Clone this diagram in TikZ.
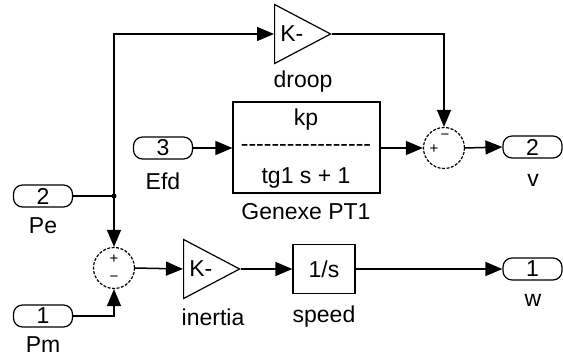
\documentclass[tikz,border=0pt]{standalone}
\usepackage{fontspec}
\setmainfont{Liberation Sans}
\usetikzlibrary{arrows.meta,shapes.geometric,positioning}

\begin{document}
\begin{tikzpicture}[
  x=1pt, y=-1pt,
  line width=1.5pt,
  every node/.style={font=\fontsize{23}{26}\selectfont},
  sig/.style={-{Triangle[length=17pt,width=14pt]}},
  port/.style={draw, line width=1.2pt, rounded corners=9pt, minimum width=59pt, minimum height=22pt, inner sep=0pt},
  gain/.style={draw, line width=1.2pt, isosceles triangle, isosceles triangle stretches, minimum width=59pt, minimum height=56pt, inner sep=0pt},
  sum/.style={draw, circle, line width=1.2pt, dash pattern=on 3pt off 1.5pt, minimum size=41pt, inner sep=0pt},
  blk/.style={draw, line width=1.2pt, inner sep=0pt},
  sign/.style={font=\fontsize{15}{15}\selectfont, inner sep=0pt},
  lbl/.style={inner sep=0pt}]
\useasboundingbox (0,0) rectangle (563,358);

% blocks
\node[gain, anchor=lower side] (droop) at (274,34) {K-};
\node[lbl] (droopL) at (303,82) {droop};
\node[blk, minimum width=147pt, minimum height=91pt] (pt1) at (306.5,147.5) {};
\node[lbl] (pt1Num) at (306,120) {kp};
\node[lbl] (pt1Bar) at (306,148) {-{}-{}-{}-{}-{}-{}-{}-{}-{}-{}-{}-{}-{}-{}-{}-{}-};
\node[lbl] (pt1Den) at (306,178) {tg1 s + 1};
\node[lbl] (pt1L) at (306,212) {Genexe PT1};
\node[port] (efd) at (163,148) {3};
\node[lbl] (efdL) at (163,181) {Efd};
\node[sum] (sum2) at (444,148) {};
\node[sign] (sum2p) at (434,149) {+};
\node[sign] (sum2m) at (445,137) {−};
\node[port] (vout) at (532.5,147) {2};
\node[lbl] (voutL) at (533,180) {v};
\node[port] (pe) at (43,196) {2};
\node[lbl] (peL) at (43,226) {Pe};
\node[port] (pm) at (43,316) {1};
\node[lbl] (pmL) at (43,345) {Pm};
\node[sum] (sum1) at (114,268) {};
\node[sign] (sum1p) at (114,259) {+};
\node[sign] (sum1m) at (114,279) {−};
\node[gain, anchor=lower side] (inertia) at (183,269) {K-};
\node[lbl] (inertiaL) at (213,317) {inertia};
\node[blk, minimum width=62pt, minimum height=49pt] (speed) at (324,269) {1/s};
\node[lbl] (speedL) at (324,317) {speed};
\node[port] (wout) at (532.5,269) {1};
\node[lbl] (woutL) at (533,300) {w};

% signals
\coordinate (j) at (sum1.north |- pe.east);
\draw (pe.east) -- (j);
\fill (j) circle (2.5pt);
\draw[sig] (j) |- (droop.lower side);
\draw[sig] (j) -- (sum1.north);
\draw[sig] (pm.east) -| (sum1.south);
\draw[sig] (droop.apex) -| (sum2.north);
\draw[sig] (efd.east) -- (efd.east -| pt1.west);
\draw[sig] (pt1.east |- sum2) -- (sum2.west);
\draw[sig] (sum2.east) -- (vout.west);
\draw[sig] (sum1.east) -- (inertia.lower side);
\draw[sig] (inertia.apex) -- (speed.west);
\draw[sig] (speed.east) -- (wout.west);
\end{tikzpicture}
\end{document}
